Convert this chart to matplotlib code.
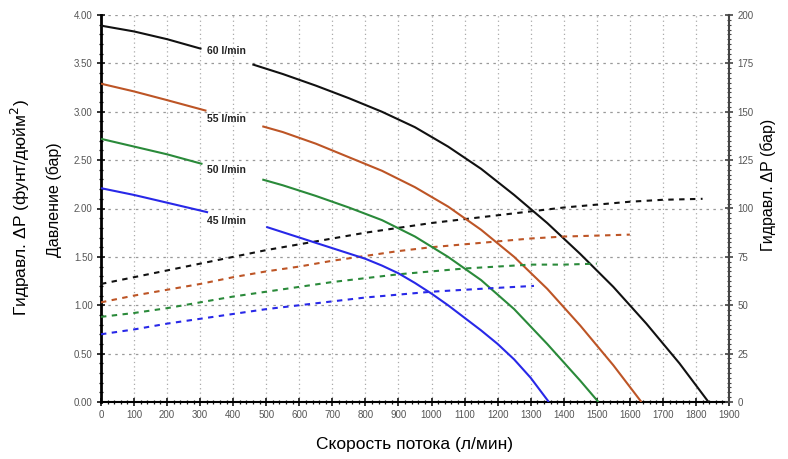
import numpy as np
import matplotlib
matplotlib.use('Agg')
import matplotlib.pyplot as plt
from matplotlib.ticker import MultipleLocator, FormatStrFormatter

plt.rcParams['font.family'] = ['Liberation Sans', 'DejaVu Sans']

nan = np.nan

# Pump curves (solid), pressure in bar on the left scale; nan = gap for the label
flow_60 = [0, 100, 200, 304, nan, 458, 550, 650, 750, 850, 950, 1050, 1150, 1250, 1350, 1450, 1550, 1650, 1750, 1838]
pres_60 = [3.89, 3.83, 3.75, 3.65, nan, 3.49, 3.39, 3.27, 3.14, 3.00, 2.84, 2.64, 2.41, 2.14, 1.85, 1.53, 1.19, 0.81, 0.40, 0.0]

flow_55 = [0, 100, 200, 319, nan, 488, 550, 650, 750, 850, 950, 1050, 1150, 1250, 1350, 1450, 1550, 1635]
pres_55 = [3.29, 3.21, 3.12, 3.01, nan, 2.85, 2.79, 2.67, 2.53, 2.39, 2.22, 2.02, 1.78, 1.50, 1.17, 0.79, 0.38, 0.0]

flow_50 = [0, 100, 200, 307, nan, 488, 550, 650, 750, 850, 950, 1050, 1150, 1250, 1350, 1450, 1505]
pres_50 = [2.72, 2.64, 2.56, 2.46, nan, 2.30, 2.24, 2.13, 2.01, 1.88, 1.71, 1.50, 1.26, 0.96, 0.60, 0.22, 0.0]

flow_45 = [0, 100, 200, 324, nan, 500, 600, 700, 800, 850, 900, 950, 1000, 1050, 1100, 1150, 1200, 1250, 1300, 1355]
pres_45 = [2.21, 2.14, 2.06, 1.96, nan, 1.81, 1.70, 1.59, 1.48, 1.41, 1.33, 1.23, 1.12, 1.00, 0.87, 0.74, 0.60, 0.44, 0.25, 0.0]

# Hydraulic dP curves (dashed)
dp_flow_60 = [0, 100, 200, 300, 400, 500, 600, 700, 800, 900, 1000, 1100, 1200, 1300, 1400, 1500, 1600, 1700, 1820]
dp_60 = [1.22, 1.29, 1.36, 1.43, 1.50, 1.57, 1.63, 1.69, 1.75, 1.80, 1.85, 1.89, 1.93, 1.97, 2.01, 2.04, 2.07, 2.09, 2.10]

dp_flow_55 = [0, 100, 200, 300, 400, 500, 600, 700, 800, 900, 1000, 1100, 1200, 1300, 1400, 1500, 1600]
dp_55 = [1.03, 1.10, 1.16, 1.22, 1.29, 1.35, 1.40, 1.46, 1.51, 1.56, 1.60, 1.63, 1.66, 1.69, 1.71, 1.72, 1.73]

dp_flow_50 = [0, 100, 200, 300, 400, 500, 600, 700, 800, 900, 1000, 1100, 1200, 1300, 1400, 1500]
dp_50 = [0.88, 0.92, 0.97, 1.03, 1.09, 1.14, 1.19, 1.24, 1.28, 1.32, 1.35, 1.38, 1.40, 1.42, 1.42, 1.43]

dp_flow_45 = [0, 100, 200, 300, 400, 500, 600, 700, 800, 900, 1000, 1100, 1200, 1310]
dp_45 = [0.70, 0.75, 0.81, 0.86, 0.91, 0.96, 1.00, 1.04, 1.08, 1.11, 1.14, 1.16, 1.18, 1.20]

labels = ['60 l/min', '55 l/min', '50 l/min', '45 l/min']
label_y = [3.63, 2.93, 2.40, 1.87]
colors = ['#111111', '#bd5526', '#2a8a3a', '#2828e8']

W, H = 788, 459
fig = plt.figure(figsize=(W / 100, H / 100), dpi=100)
ax = fig.add_axes([101 / W, 1 - 402 / H, (729 - 101) / W, (402 - 15) / H])
ax2 = ax.twinx()

ax.set_xlim(0, 1900)
ax.set_ylim(0, 4)
ax2.set_ylim(0, 200)

# grid
for y in np.arange(0.5, 4.01, 0.5):
    ax.axhline(y, color='#999999', lw=0.9, ls=(0, (2, 3.5)), zorder=0)
for x in np.arange(100, 1900, 100):
    ax.axvline(x, color='#aaaaaa', lw=0.9, ls=(0, (1, 2.5)), zorder=0)

solid = [(flow_60, pres_60), (flow_55, pres_55), (flow_50, pres_50), (flow_45, pres_45)]
dashed = [(dp_flow_60, dp_60), (dp_flow_55, dp_55), (dp_flow_50, dp_50), (dp_flow_45, dp_45)]
for (fx, fy), (dx, dy), c, lab, ly in zip(solid, dashed, colors, labels, label_y):
    ax.plot(fx, fy, color=c, lw=1.5, solid_capstyle='butt', solid_joinstyle='round', zorder=3)
    ax.plot(dx, dy, color=c, lw=1.5, ls=(0, (2.6, 2.6)), zorder=3)
    ax.text(320, ly, lab, fontsize=7.5, fontweight='bold', color='#222222',
            va='center', ha='left', zorder=4)

# ticks and spines
ax.xaxis.set_major_locator(MultipleLocator(100))
ax.xaxis.set_minor_locator(MultipleLocator(20))
ax.yaxis.set_major_locator(MultipleLocator(0.5))
ax.yaxis.set_minor_locator(MultipleLocator(0.1))
ax.yaxis.set_major_formatter(FormatStrFormatter('%.2f'))
ax2.yaxis.set_major_locator(MultipleLocator(25))
ax2.yaxis.set_minor_locator(MultipleLocator(2.5))

ax.tick_params(which='major', direction='inout', length=6, width=1.2, labelsize=7,
               labelcolor='#555555', color='#111111', pad=3)
ax.tick_params(which='minor', direction='inout', length=3, width=0.9, color='#111111')
ax2.tick_params(which='major', direction='inout', length=6, width=1.2, labelsize=7,
                labelcolor='#555555', color='#444444', pad=3)
ax2.tick_params(which='minor', direction='inout', length=3, width=0.8, color='#444444')

for a in (ax, ax2):
    a.spines['top'].set_visible(False)
ax.spines['left'].set_linewidth(2)
ax.spines['bottom'].set_linewidth(1.5)
ax.spines['right'].set_visible(False)
ax2.spines['left'].set_visible(False)
ax2.spines['bottom'].set_visible(False)
ax2.spines['right'].set_linewidth(1.5)
ax2.spines['right'].set_color('#444444')

# axis titles
fig.text(415 / W, 1 - 445 / H, 'Скорость потока (л/мин)', fontsize=12.5, ha='center', va='center')
fig.text(20 / W, 1 - 208 / H, 'Гидравл. ΔP (фунт/дюйм$^{2}$)', fontsize=12.5,
         rotation=90, ha='center', va='center')
fig.text(54 / W, 1 - 200 / H, 'Давление (бар)', fontsize=11.5, rotation=90, ha='center', va='center')
fig.text(768 / W, 1 - 185 / H, 'Гидравл. ΔP (бар)', fontsize=11.5, rotation=90, ha='center', va='center')

fig.savefig('out.png', dpi=100)
